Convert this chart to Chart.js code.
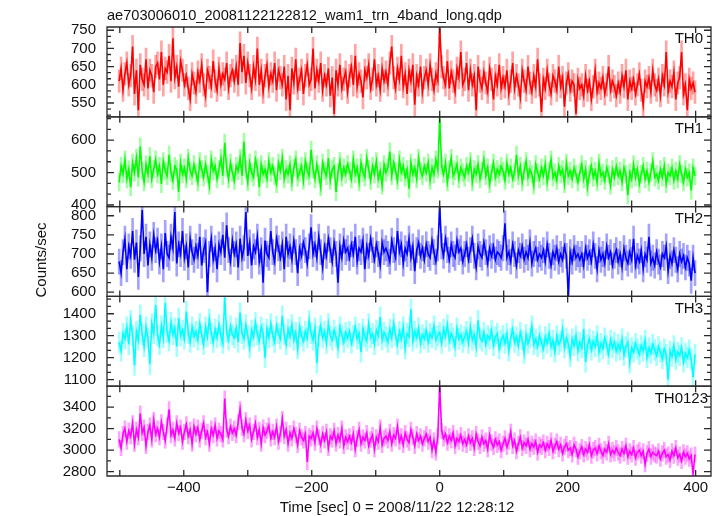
<!DOCTYPE html>
<html><head><meta charset="utf-8">
<script src="https://cdn.jsdelivr.net/npm/chart.js@4.4.1/dist/chart.umd.min.js"></script>
<style>
html,body{margin:0;padding:0;background:#fff;}
#wrap{position:relative;width:721px;height:516px;overflow:hidden;background:#fff;}
#c{position:absolute;left:0;top:0;}
.t{position:absolute;font-family:"Liberation Sans",Arial,sans-serif;color:#111;white-space:nowrap;}
</style></head><body>
<div id="wrap">
<canvas id="c" width="721" height="516"></canvas>
<div class="t" style="left:107px;top:8px;font-size:14.6px;line-height:15px;">ae703006010_20081122122812_wam1_trn_4band_long.qdp</div>
<div class="t" style="left:-9px;top:252px;width:100px;text-align:center;font-size:15px;line-height:16px;transform:rotate(-90deg);">Counts/sec</div>
<div class="t" style="left:247px;top:499px;width:300px;text-align:center;font-size:15px;line-height:15px;">Time [sec] 0 = 2008/11/22 12:28:12</div>
</div>
<script>
// time bins (sec, relative to 2008/11/22 12:28:12)
const binStart = -501;
const binWidth = 3;

const panelNames = ["TH0", "TH1", "TH2", "TH3", "TH0123"];

const th0 = [
610,645,585,630,660,600,625,705,575,640,530,655,615,600,670,590,640,625,580,650,
660,615,690,600,645,635,680,610,728,620,650,595,665,640,600,625,590,560,630,605,
580,635,610,655,600,570,640,620,595,665,610,585,645,600,630,615,660,590,625,640,
610,650,600,715,635,680,605,660,625,590,650,615,700,600,640,580,625,655,595,630,
610,660,585,640,620,600,650,560,625,530,645,605,670,590,615,640,575,625,655,600,
615,700,590,640,610,660,585,625,600,645,570,620,520,640,600,655,590,615,635,580,
625,650,600,680,595,630,610,565,640,620,655,590,615,670,600,625,585,645,610,635,
600,660,705,620,590,645,615,680,595,630,575,640,610,655,545,625,600,650,580,620,
640,600,655,615,585,630,610,756,650,620,600,665,590,635,610,580,645,620,690,600,
615,660,585,640,600,625,530,650,610,590,635,605,580,645,615,560,625,600,655,590,
620,595,640,575,610,660,590,625,600,565,640,610,585,650,605,580,625,595,670,600,
525,615,590,640,600,575,625,610,585,650,595,620,540,605,630,585,610,600,520,615,
590,600,570,625,585,610,560,595,640,580,605,590,620,575,600,650,585,610,595,570,
605,580,625,595,640,560,610,590,615,575,600,630,585,545,610,595,620,580,640,600,
585,615,570,625,600,690,580,610,595,635,560,605,620,690,575,600,530,615,590,605,
580];

const th1 = [
470,520,495,540,480,510,455,530,500,545,485,580,505,470,525,495,550,480,510,540,
495,520,465,535,505,490,555,500,475,520,510,440,530,495,515,480,545,505,490,525,
500,470,535,510,485,525,495,460,540,505,520,480,510,545,490,592,515,480,530,500,
475,520,505,545,490,595,510,470,530,500,485,540,515,455,525,495,510,480,535,500,
520,490,465,530,505,545,480,510,495,525,470,515,540,485,500,520,475,535,505,490,
570,510,480,525,495,455,530,505,490,545,475,510,520,440,500,535,485,515,495,525,
505,480,540,495,515,470,530,500,485,545,510,475,520,495,535,480,505,460,525,500,
515,565,490,530,505,475,540,500,520,485,510,450,530,495,515,480,545,505,490,520,
500,530,475,515,495,540,510,665,520,495,530,470,510,545,490,505,525,480,515,500,
485,520,500,535,470,510,495,525,480,505,540,490,515,465,500,530,485,510,495,520,
505,475,530,495,515,480,500,555,490,520,470,505,535,485,510,495,460,525,500,480,
515,490,525,470,505,540,485,500,475,520,495,510,465,530,490,505,480,515,495,470,
500,525,480,510,455,495,520,485,505,470,530,490,500,475,515,495,460,510,485,520,
490,505,470,515,495,430,500,480,525,485,510,465,495,520,480,505,470,500,535,485,
495,475,510,485,520,465,500,490,515,475,505,480,525,495,470,510,485,500,445,515,
490];

const th2 = [
680,650,705,740,660,720,695,760,685,730,640,715,815,700,745,670,725,690,750,710,
735,680,720,660,755,700,690,745,715,810,675,725,700,760,690,720,665,740,705,685,
720,695,745,670,710,730,600,700,740,685,715,660,725,705,750,690,775,710,680,735,
700,725,665,740,690,715,810,695,730,670,720,705,745,680,710,625,735,700,690,760,
705,680,740,715,690,725,660,745,700,720,685,735,705,650,715,695,730,710,675,720,
770,700,725,690,745,705,665,720,695,740,710,680,730,700,625,720,690,735,705,715,
690,725,700,745,680,715,705,735,660,720,695,740,710,685,725,700,670,730,705,715,
700,680,735,710,690,760,705,725,675,715,700,740,690,720,655,710,730,695,715,685,
725,700,690,735,705,680,715,822,720,695,740,710,685,725,700,690,735,705,715,680,
700,725,685,710,740,695,665,720,700,690,730,705,675,715,695,720,685,705,700,690,
715,780,690,705,680,725,700,670,710,695,720,685,705,690,730,675,700,715,685,700,
690,710,680,725,695,670,705,690,715,680,700,685,720,695,590,705,680,715,690,700,
685,700,670,715,690,705,680,725,695,660,710,685,700,675,720,690,705,670,695,710,
680,700,665,715,690,675,705,685,740,670,695,680,710,660,700,685,745,675,690,670,
705,680,665,700,690,720,655,695,675,710,685,660,700,680,695,665,690,675,630,690,
650];

const th3 = [
1270,1230,1310,1285,1340,1260,1370,1300,1165,1320,1280,1395,1305,1250,1340,1290,1170,1355,1310,1440,
1300,1260,1345,1290,1450,1315,1275,1360,1305,1335,1250,1380,1300,1325,1285,1410,1310,1270,1340,1295,
1320,1280,1355,1305,1260,1340,1295,1375,1310,1270,1330,1290,1350,1300,1265,1475,1315,1280,1345,1305,
1290,1335,1270,1405,1310,1285,1350,1300,1245,1325,1295,1360,1305,1275,1340,1310,1200,1330,1290,1355,
1300,1270,1345,1310,1285,1390,1305,1260,1330,1295,1350,1280,1315,1240,1340,1300,1275,1320,1290,1370,
1310,1280,1335,1175,1300,1345,1290,1320,1265,1355,1300,1280,1325,1295,1245,1340,1305,1270,1315,1290,
1320,1265,1300,1340,1285,1310,1225,1330,1295,1275,1355,1290,1310,1260,1325,1300,1385,1280,1315,1295,
1270,1330,1290,1355,1300,1260,1320,1285,1340,1240,1310,1295,1420,1275,1320,1290,1335,1265,1305,1285,
1325,1270,1310,1290,1345,1280,1300,1315,1265,1330,1295,1350,1275,1310,1290,1250,1335,1285,1305,1270,
1295,1320,1265,1340,1280,1305,1250,1370,1290,1275,1315,1260,1300,1285,1325,1255,1295,1310,1240,1280,
1300,1265,1310,1230,1290,1330,1270,1295,1255,1315,1280,1220,1305,1265,1290,1345,1260,1285,1250,1300,
1270,1240,1295,1265,1310,1250,1280,1225,1300,1260,1275,1330,1245,1290,1265,1205,1285,1255,1300,1230,
1270,1245,1330,1180,1260,1285,1235,1275,1250,1300,1225,1265,1240,1290,1255,1215,1280,1245,1270,1230,
1260,1235,1285,1210,1250,1270,1175,1245,1225,1265,1240,1215,1255,1230,1280,1200,1245,1220,1260,1235,
1210,1250,1225,1195,1240,1215,1100,1230,1205,1255,1190,1225,1210,1245,1180,1220,1200,1235,1195,1110,
1215];

const th0123 = [
3100,3020,3150,3200,3080,3180,3130,3250,3060,3190,3120,3340,3160,3210,3040,3170,3230,3100,3280,3150,
3200,3120,3260,3170,3090,3230,3380,3140,3190,3110,3250,3160,3210,3080,3170,3240,3130,3190,3060,3220,
3150,3210,3100,3180,3250,3120,3170,3060,3200,3140,3230,3110,3180,3150,3100,3480,3190,3130,3220,3160,
3200,3140,3260,3380,3210,3150,3280,3180,3230,3100,3170,3250,3120,3190,3060,3210,3140,3180,3230,3110,
3170,3120,3220,3080,3150,3290,3130,3190,3060,3160,3110,3200,3140,3050,3180,3120,3090,3150,2890,3130,
3110,3160,3070,3200,3120,3050,3150,3090,3170,3020,3130,3100,3180,3060,3140,3090,3200,3040,3120,3080,
3130,3070,3150,3010,3110,3190,3060,3120,3090,3160,3040,3100,3140,3010,3120,3080,3210,3050,3110,3130,
3090,3170,3060,3140,3110,3220,3080,3130,3050,3160,3100,3070,3190,3120,3040,3150,3090,3130,3060,3110,
3150,3080,3120,3000,3090,2980,3130,3595,3180,3110,3150,3070,3130,3090,3160,3040,3110,3080,3140,3060,
3100,3050,3130,3070,3110,3020,3150,3080,3040,3120,3060,3090,3010,3140,3070,3030,3100,3050,3080,3000,
3060,3110,3030,3080,3170,3040,3090,2990,3060,3120,3020,3070,3040,3100,3010,3060,3030,3080,2980,3050,
3030,3070,3000,3060,3020,3090,2990,3040,3080,3010,3050,2970,3030,3060,3000,3020,2960,3050,3010,2940,
2990,3030,2960,3010,2980,3050,2950,3000,3020,2970,3040,2990,2950,3010,2980,3060,2960,3000,2970,3020,
2980,2950,3010,2970,3040,2940,2990,2960,3020,2930,2980,3000,2950,2990,2870,2970,3010,2940,2980,2960,
2950,2990,2920,2970,3000,2940,2960,2910,2990,2950,3020,2930,2960,2900,2980,2940,2970,2920,2950,2780,
2960];

// typical 1-sigma error bar half-widths per band (counts/sec)
const errTH0 = 31, errTH1 = 27, errTH2 = 33, errTH3 = 46, errTH0123 = 72;

// axis ranges and tick labels
const yMin = [512, 395, 589, 1070, 2760];
const yMax = [759, 672, 824, 1479, 3595];
const ticksTH0 = [550, 600, 650, 700, 750];
const ticksTH1 = [400, 500, 600];
const ticksTH2 = [600, 650, 700, 750, 800];
const ticksTH3 = [1100, 1200, 1300, 1400];
const ticksTH0123 = [2800, 3000, 3200, 3400];
const xTicks = [-400, -200, 0, 200, 400];
const xMin = -520, xMax = 424;

const series = [th0, th1, th2, th3, th0123];
const errs = [errTH0, errTH1, errTH2, errTH3, errTH0123];
const yTickSets = [ticksTH0, ticksTH1, ticksTH2, ticksTH3, ticksTH0123];
const majorStep = [50, 100, 50, 100, 200];
const nSub = [3, 3, 2, 3, 2];
const lineColors = ["#ff0000", "#00ff00", "#0000ff", "#00ffff", "#ff00ff"];
const errColors = ["rgba(255,0,0,0.36)", "rgba(0,255,0,0.36)", "rgba(0,0,255,0.36)", "rgba(0,255,255,0.36)", "rgba(255,0,255,0.36)"];
const labelRight = [703, 703, 703, 703, 708];

const FONT = '"Liberation Sans", Arial, sans-serif';

const datasets = [];
series.forEach((vals, i) => {
  datasets.push({
    type: 'bar',
    data: vals.map((v, k) => ({x: binStart + k * binWidth, y: [v - errs[i], v + errs[i]]})),
    backgroundColor: errColors[i],
    borderWidth: 0,
    barThickness: 2,
    grouped: false,
    xAxisID: 'x',
    yAxisID: 'y' + i,
    order: 2
  });
  datasets.push({
    type: 'line',
    data: vals.map((v, k) => ({x: binStart + k * binWidth, y: v})),
    borderColor: lineColors[i],
    borderWidth: 1.6,
    pointRadius: 0,
    tension: 0,
    fill: false,
    xAxisID: 'x',
    yAxisID: 'y' + i,
    order: 1
  });
});

const scales = {
  x: {
    type: 'linear', position: 'bottom', min: xMin, max: xMax, offset: false,
    grid: {display: false, drawTicks: false}, border: {display: false},
    afterBuildTicks: s => { s.ticks = xTicks.map(v => ({value: v})); },
    afterFit: s => { s.height = 40; },
    ticks: {
      autoSkip: false, maxRotation: 0, padding: 3, color: '#111',
      font: {family: FONT, size: 15},
      callback: v => (v < 0 ? '\u2212' + Math.abs(v) : String(v))
    }
  }
};
for (let i = 0; i < 5; i++) {
  scales['y' + i] = {
    type: 'linear', position: 'left', stack: 'panels', stackWeight: 1, weight: 5 - i,
    min: yMin[i], max: yMax[i],
    grid: {display: false, drawTicks: false}, border: {display: false},
    afterBuildTicks: s => { s.ticks = yTickSets[i].map(v => ({value: v})); },
    afterFit: s => { s.width = 107; },
    ticks: {
      autoSkip: false, padding: 11, color: '#111',
      font: {family: FONT, size: 15},
      callback: v => String(v)
    }
  };
}

const framePlugin = {
  id: 'frames',
  afterDatasetsDraw(chart) {
    const ctx = chart.ctx, ca = chart.chartArea, xs = chart.scales.x;
    ctx.save();
    ctx.strokeStyle = '#2a2a2a';
    ctx.lineWidth = 1.3;
    for (let i = 0; i < 5; i++) {
      const s = chart.scales['y' + i];
      const top = s.top, bot = s.bottom;
      ctx.beginPath();
      ctx.rect(ca.left, top, ca.right - ca.left, bot - top);
      const step = majorStep[i] / nSub[i];
      const base = Math.floor(s.min / majorStep[i]) * majorStep[i];
      for (let k = 0; ; k++) {
        const v = base + k * step;
        if (v > s.max + 1e-6) break;
        if (v < s.min - 1e-6) continue;
        const py = s.getPixelForValue(v);
        const len = (k % nSub[i] === 0) ? 7 : 4;
        ctx.moveTo(ca.left, py); ctx.lineTo(ca.left + len, py);
        ctx.moveTo(ca.right, py); ctx.lineTo(ca.right - len, py);
      }
      for (let t = -500; t <= 400; t += 100) {
        const px = xs.getPixelForValue(t);
        ctx.moveTo(px, top); ctx.lineTo(px, top + 6);
        ctx.moveTo(px, bot); ctx.lineTo(px, bot - 6);
      }
      ctx.stroke();
      ctx.fillStyle = '#111';
      ctx.font = '15px ' + FONT;
      ctx.textAlign = 'right';
      ctx.textBaseline = 'alphabetic';
      ctx.fillText(panelNames[i], labelRight[i], top + 16.3);
    }
    ctx.restore();
  }
};

new Chart(document.getElementById('c'), {
  type: 'line',
  data: {datasets},
  options: {
    responsive: false, animation: false, normalized: true,
    layout: {padding: {left: 0, right: 10, top: 27, bottom: 0}},
    plugins: {legend: {display: false}, tooltip: {enabled: false}, title: {display: false}},
    scales
  },
  plugins: [framePlugin]
});
</script>
</body></html>
